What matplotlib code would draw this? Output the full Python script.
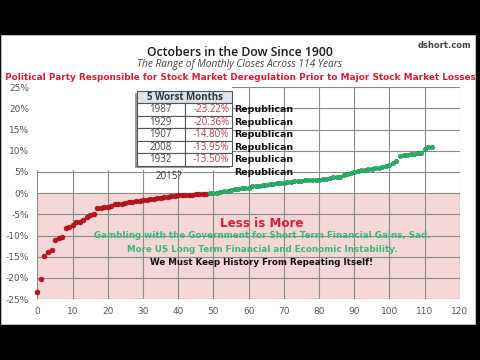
import matplotlib
matplotlib.use("Agg")
import matplotlib.pyplot as plt
from matplotlib.patches import Rectangle
from matplotlib.ticker import FuncFormatter

# October monthly changes (%), sorted ascending
losses = [-23.22, -20.36, -14.80, -13.95, -13.50, -11.0, -10.6, -10.4, -8.3, -8.0,
          -7.4, -6.9, -6.8, -6.3, -5.7, -5.2, -4.9, -3.6, -3.4, -3.3,
          -3.2, -3.1, -2.6, -2.5, -2.45, -2.3, -2.2, -2.0, -1.9, -1.75,
          -1.6, -1.5, -1.4, -1.3, -1.2, -1.05, -0.9, -0.8, -0.7, -0.6,
          -0.55, -0.5, -0.45, -0.4, -0.35, -0.3, -0.2, -0.15, -0.1]
gains = [0.05, 0.1, 0.15, 0.3, 0.45, 0.6, 0.75, 0.9, 1.05, 1.1,
         1.2, 1.3, 1.6, 1.65, 1.75, 1.85, 1.95, 2.05, 2.15, 2.3,
         2.4, 2.45, 2.55, 2.65, 2.75, 2.85, 2.95, 3.0, 3.05, 3.1,
         3.15, 3.2, 3.3, 3.45, 3.55, 3.7, 3.8, 3.9, 4.3, 4.6,
         4.8, 5.0, 5.3, 5.4, 5.5, 5.6, 5.7, 5.9, 6.0, 6.1,
         6.4, 6.6, 7.1, 7.6, 8.7, 9.0, 9.1, 9.2, 9.3, 9.35,
         9.4, 10.5, 10.8, 10.9]

worst_years = ["1987", "1929", "1907", "2008", "1932"]
worst_values = ["-23.22%", "-20.36%", "-14.80%", "-13.95%", "-13.50%"]
party = ["Republican"] * 6

xticks = list(range(0, 121, 10))
yticks = list(range(-25, 26, 5))

fig = plt.figure(figsize=(4.8, 3.6), dpi=100)
fig.patch.set_facecolor("black")

# white panel (letterboxed video frame)
panel = Rectangle((0.003, 0.1), 0.987, 0.803, transform=fig.transFigure,
                  facecolor="white", edgecolor="#bbbbbb", lw=0.8, zorder=-10)
fig.add_artist(panel)

ax = fig.add_axes([0.078, 0.169, 0.88, 0.589])
ax.set_zorder(1)
ax.set_facecolor("none")
ax.set_xlim(0, 120)
ax.set_ylim(-25, 25)
ax.set_xticks(xticks)
ax.set_yticks(yticks)
ax.yaxis.set_major_formatter(FuncFormatter(lambda v, p: f"{v:.0f}%"))
ax.tick_params(length=0, labelsize=6.5, colors="#555555", pad=6)
ax.grid(True, color="#8a8a8a", lw=0.8, zorder=1)
ax.set_axisbelow(True)
for s in ax.spines.values():
    s.set_visible(False)
ax.axhline(-25, color="#8a8a8a", lw=0.8, zorder=1)

ax.axhspan(-25, 0, color="#f4d0d0", alpha=0.85, zorder=0.5, lw=0)

# white box hiding the grid behind the table
ax.add_patch(Rectangle((0, 5.4), 55.3, 19.6, facecolor="white", edgecolor="none", zorder=2))

xl = list(range(len(losses)))
xg = list(range(len(losses), len(losses) + len(gains)))
ax.plot(xl, losses, "o", color="#c0151c", ms=3.5, mec="#8a0a10", mew=0.4, zorder=4, clip_on=False)
ax.plot(xg, gains, "o", color="#27b36a", ms=3.2, mec="#1a8a50", mew=0.4, zorder=4, clip_on=False)

# table
tx0, tx1, txm = 28.3, 55.3, 41.8
ty_top, ty_head = 24.1, 21.2
row_h = 2.95
ax.add_patch(Rectangle((tx0 - 0.6, ty_head - 5 * row_h - 0.5), tx1 - tx0, ty_top - ty_head + 5 * row_h,
                       facecolor="#9a9a9a", edgecolor="none", zorder=3))
ax.add_patch(Rectangle((tx0, ty_head), tx1 - tx0, ty_top - ty_head, facecolor="#dde5ec",
                       edgecolor="#555555", lw=0.8, zorder=3.5))
ax.text((tx0 + tx1) / 2, (ty_top + ty_head) / 2, "5 Worst Months", ha="center", va="center",
        fontsize=7, fontweight="bold", color="#333333", zorder=5, family="Open Sans")
for i, (yr, val) in enumerate(zip(worst_years, worst_values)):
    top = ty_head - i * row_h
    ax.add_patch(Rectangle((tx0, top - row_h), txm - tx0, row_h, facecolor="white",
                           edgecolor="#555555", lw=0.8, zorder=3.5))
    ax.add_patch(Rectangle((txm, top - row_h), tx1 - txm, row_h, facecolor="white",
                           edgecolor="#555555", lw=0.8, zorder=3.5))
    ax.text((tx0 + txm) / 2, top - row_h / 2, yr, ha="center", va="center",
            fontsize=7, color="#444444", zorder=5, family="Open Sans")
    ax.text(tx1 - 0.8, top - row_h / 2, val, ha="right", va="center",
            fontsize=7, color="#b5404a", zorder=5, family="Open Sans")

for i, p in enumerate(party):
    ax.text(55.8, ty_head - row_h / 2 - i * row_h, p, ha="left", va="center",
            fontsize=6.8, fontweight="bold", color="#111111", zorder=5)
ax.text(37.3, 3.85, "2015?", ha="center", va="center", fontsize=7,
        color="#333333", zorder=5, family="Open Sans")

# annotations in the loss area
ax.text(63.8, -7.1, "Less is More", ha="center", va="center", fontsize=8.6,
        fontweight="bold", color="#d8203a", zorder=5)
ax.text(63.8, -10.1, "Gambling with the Government for Short Term Financial Gains, Sad.",
        ha="center", va="center", fontsize=6.3, fontweight="bold", color="#3cb878", zorder=5)
ax.text(63.8, -13.3, "More US Long Term Financial and Economic Instability.",
        ha="center", va="center", fontsize=6.3, fontweight="bold", color="#3cb878", zorder=5)
ax.text(63.8, -16.3, "We Must Keep History From Repeating Itself!",
        ha="center", va="center", fontsize=6.3, fontweight="bold", color="#111111", zorder=5)

# titles
fig.text(0.5, 1 - 52 / 360, "Octobers in the Dow Since 1900", ha="center", va="center",
         fontsize=8.8, fontweight="semibold", color="#1a1a1a", family="Open Sans")
fig.text(0.5, 1 - 65 / 360, "The Range of Monthly Closes Across 114 Years", ha="center",
         va="center", fontsize=7.3, style="italic", color="#444444", family="Open Sans")
fig.text(0.5, 1 - 77 / 360,
         "Political Party Responsible for Stock Market Deregulation Prior to Major Stock Market Losses",
         ha="center", va="center", fontsize=6.4, fontweight="bold", color="#d41f35")
fig.text(0.925, 1 - 45 / 360, "dshort.com", ha="center", va="center", fontsize=6,
         fontweight="bold", color="#444444")

fig.savefig("out.png", dpi=100, facecolor=fig.get_facecolor())
